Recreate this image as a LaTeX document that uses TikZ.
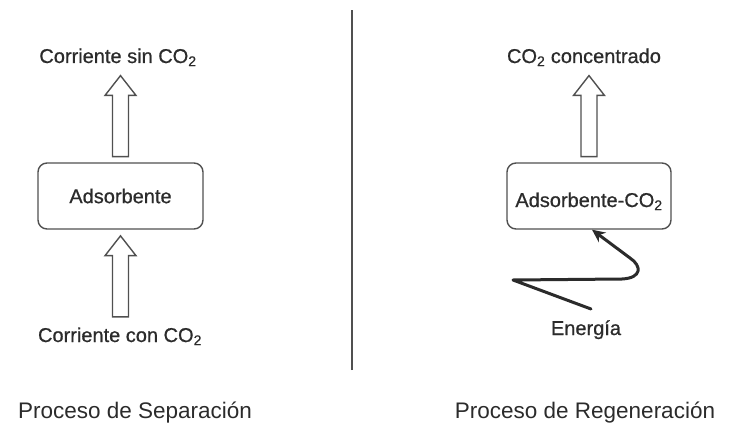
\documentclass[tikz,border=0pt]{standalone}
\usepackage{fontspec}
\setmainfont{Liberation Sans}
\newfontfamily\grueso{Liberation Sans}[FakeBold=0.7]
\usepackage{xcolor}
\usepackage{tikz}
\usetikzlibrary{positioning,shapes.arrows,arrows.meta}

\definecolor{texto}{HTML}{2B2B2B}
\definecolor{linea}{HTML}{505050}

\begin{document}
\begin{tikzpicture}[x=1pt,y=1pt,
etiq/.style={font=\grueso\fontsize{20}{24}\selectfont, text=texto, inner sep=0pt, anchor=base},
titulo/.style={font=\fontsize{22.5}{27}\selectfont, text=texto, inner sep=0pt, anchor=base},
caja/.style={draw=linea, line width=1.4pt, rounded corners=9pt, minimum width=165pt,
minimum height=66pt, inner sep=0pt, text=texto, font=\grueso\fontsize{20}{24}\selectfont},
flecha/.style={single arrow, draw=linea, line width=1.4pt, inner xsep=0pt, inner ysep=7.3pt,
single arrow head extend=7.5pt, single arrow tip angle=76, minimum height=81pt, rotate=90},
rayo/.style={draw=texto, line width=3pt, line join=round, line cap=round,
-{Stealth[length=13pt,width=12pt]}}]
\useasboundingbox (0,0) rectangle (730,424);
% divisor
\draw[linea, line width=1.5pt] (352,54) -- (352,414);
% separacion
\node[caja] (ads) at (120.5,228) {Adsorbente};
\node[etiq] (sin) at (118,361) {Corriente sin CO\textsubscript{2}};
\node[etiq] (con) at (120,82) {Corriente con CO\textsubscript{2}};
\node[flecha, anchor=tail] (f1) at ([yshift=5pt]ads.north) {};
\node[flecha, anchor=tip] (f2) at ([yshift=-5pt]ads.south) {};
\node[titulo] (sep) at (135,6) {Proceso de Separación};
% regeneracion
\node[caja, minimum width=164pt, text height=22pt, text depth=0pt] (adsco) at (589,228) {Adsorbente-CO\textsubscript{2}};
\node[etiq] (conc) at (584,361) {CO\textsubscript{2} concentrado};
\node[etiq] (ener) at (586,89) {Energía};
\node[flecha, anchor=tail] (f3) at ([yshift=5pt]adsco.north) {};
\coordinate (arranque) at (591,115);
\draw[rayo] (arranque) -- (513,144) -- (622,145) .. controls (642,146) and (642,158) .. (630,166) -- ([xshift=3pt]adsco.south);
\node[titulo] (regen) at (585,6) {Proceso de Regeneración};
\end{tikzpicture}
\end{document}
